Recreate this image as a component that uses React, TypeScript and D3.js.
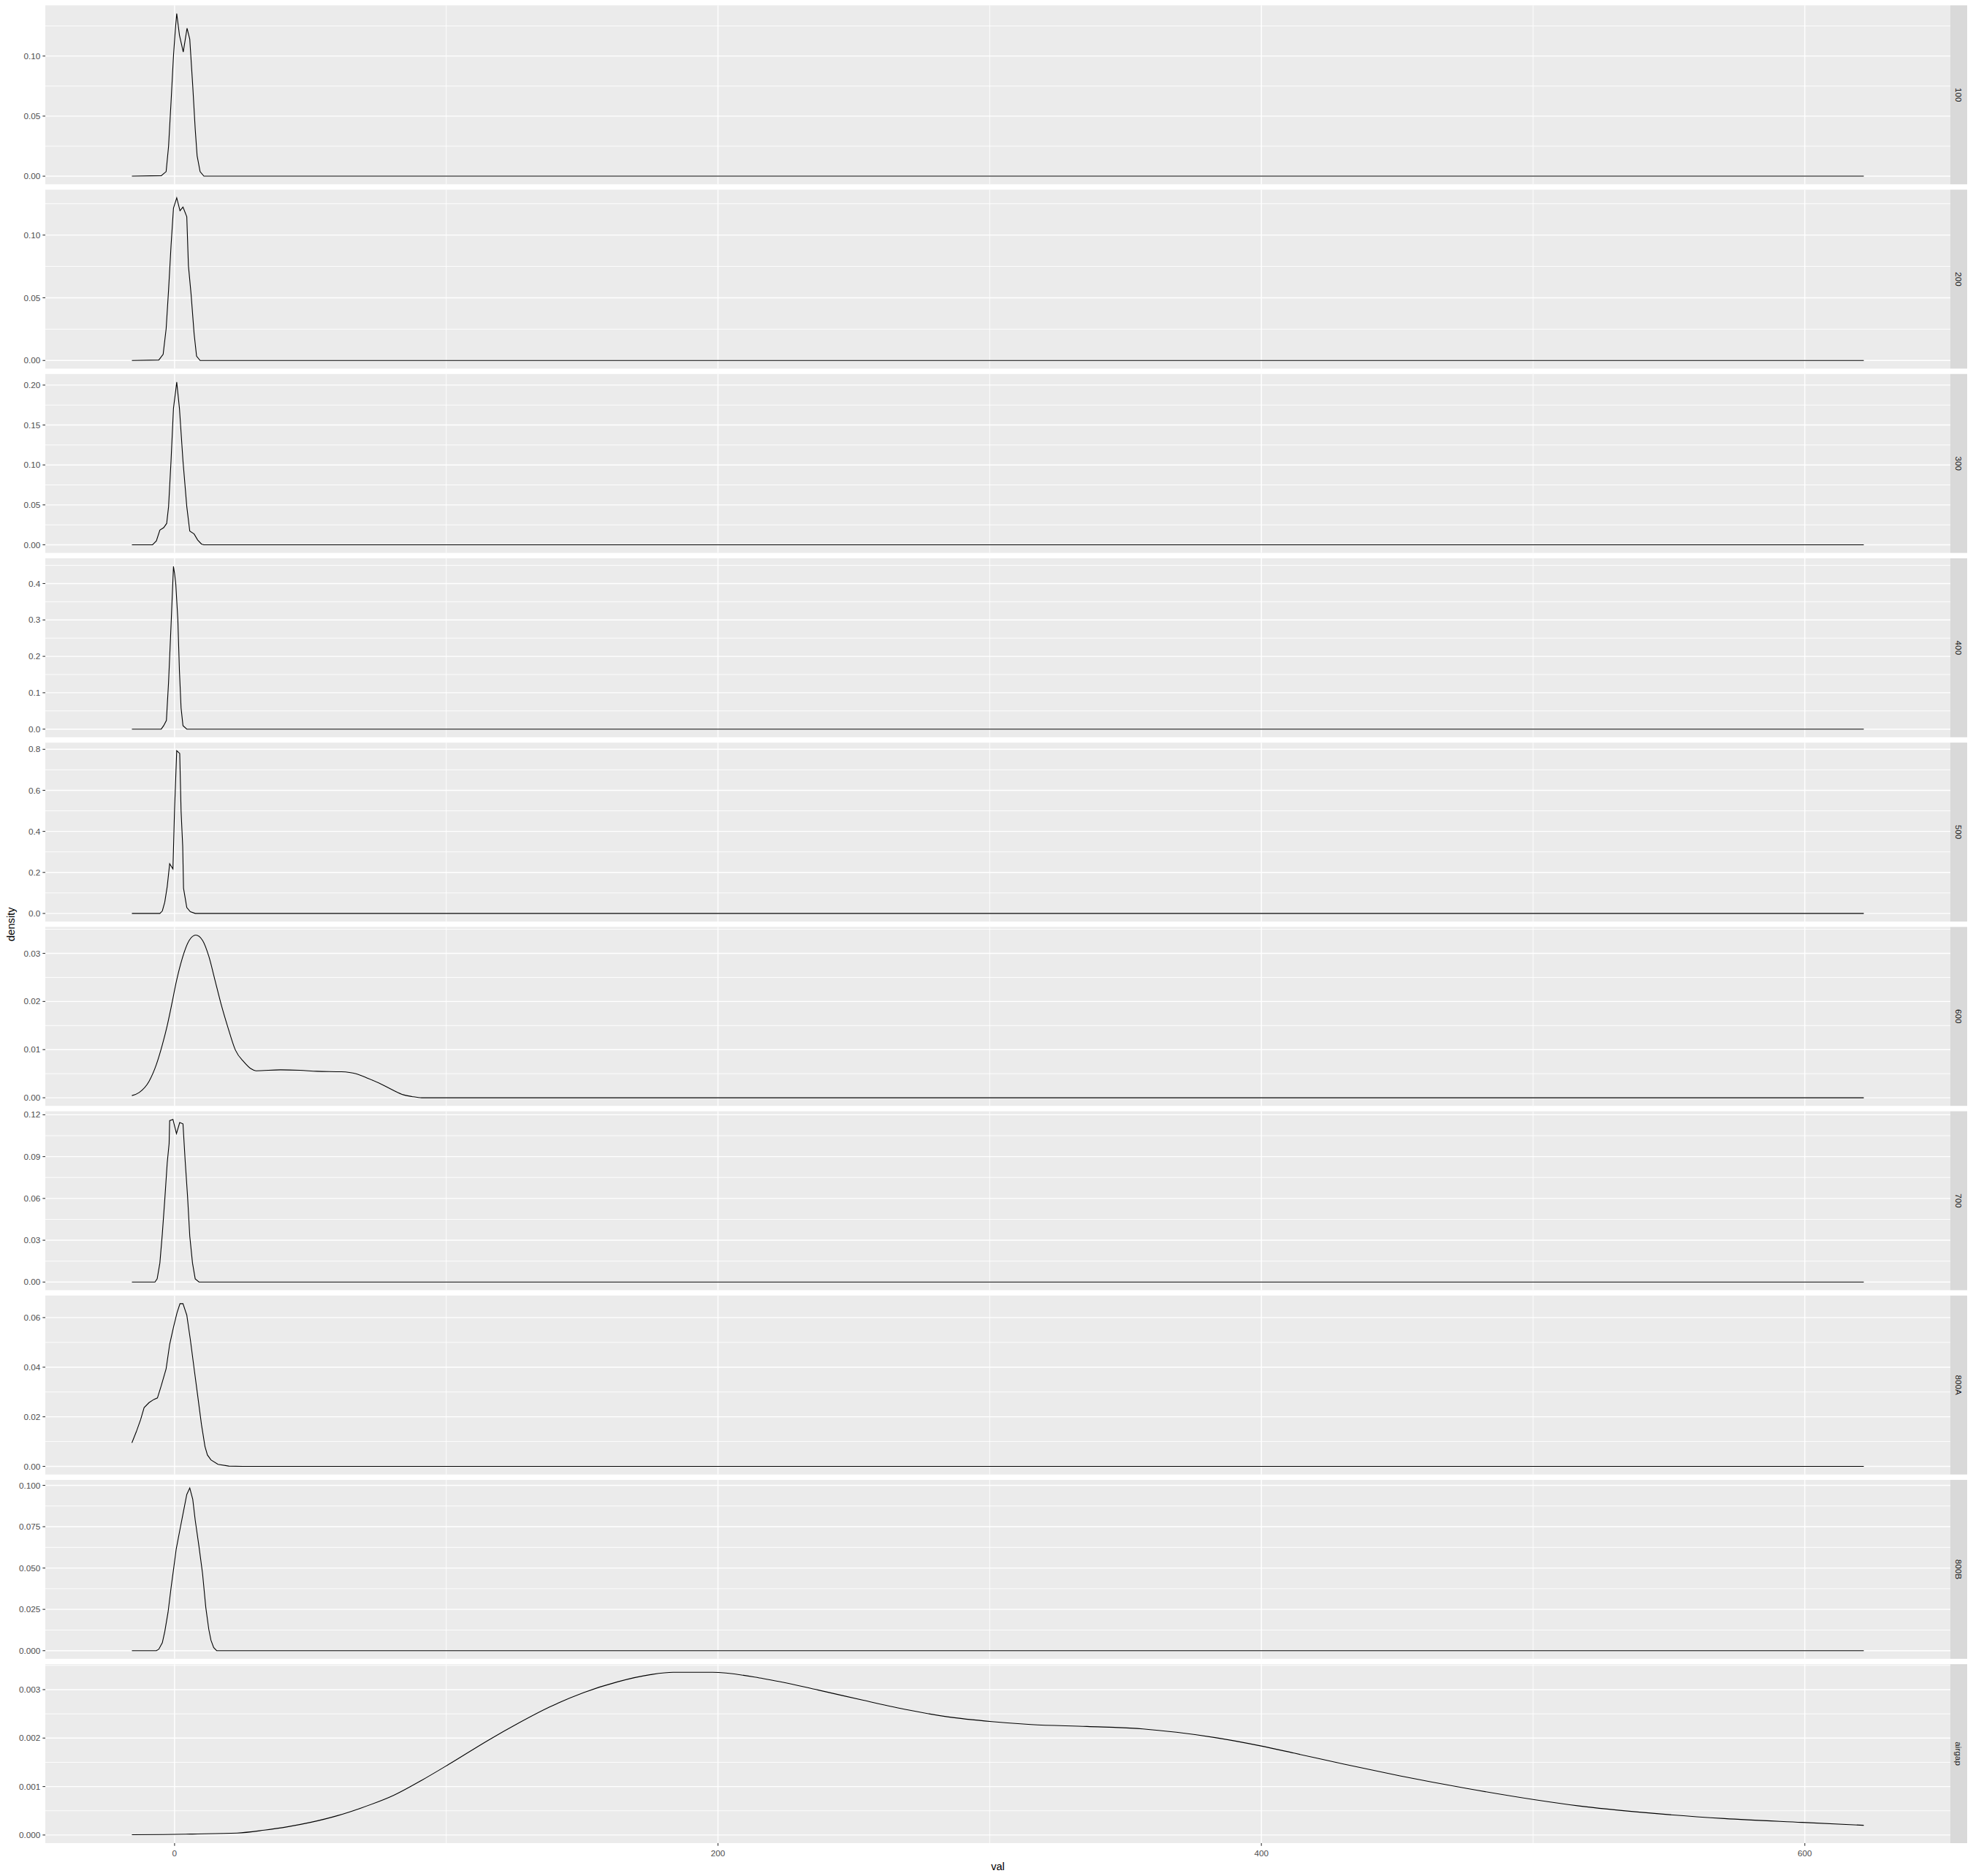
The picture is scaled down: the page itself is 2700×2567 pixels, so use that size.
import React from 'react';
import * as d3 from 'd3';

// facet rows (top to bottom)
const facetNames = ['100', '200', '300', '400', '500', '600', '700', '800A', '800B', 'airgap'];
// wide, smooth curves get a smooth interpolation; the narrow ones stay jagged like the original
const smoothFacets = ['600', 'airgap'];

// density curves: [val, density]
const d100: [number, number][] = [
  [-15.7, 0], [-4.9, 0.0004], [-3.1, 0.0038], [-2.2, 0.025], [-1.3, 0.0615], [-0.4, 0.1],
  [0.27, 0.1215], [0.8, 0.1354], [1.8, 0.1174], [3.2, 0.1034], [4.6, 0.1232], [5.6, 0.114],
  [6.7, 0.0749], [7.6, 0.0393], [8.3, 0.017], [9.4, 0.0038], [10.8, 0], [621.7, 0],
];
const d200: [number, number][] = [
  [-15.7, 0], [-5.8, 0.0004], [-4.2, 0.0049], [-3.1, 0.0252], [-2.2, 0.0563], [-1.3, 0.0913],
  [-0.4, 0.1214], [0.8, 0.1297], [2.0, 0.1194], [3.1, 0.1223], [4.5, 0.1146], [5.1, 0.0757],
  [6.1, 0.0524], [7.2, 0.0213], [8.1, 0.0035], [9.4, 0], [621.7, 0],
];
const d300: [number, number][] = [
  [-15.7, 0], [-8.1, 0], [-6.7, 0.0048], [-5.4, 0.0184], [-4.0, 0.0215], [-2.9, 0.0268],
  [-2.2, 0.0479], [-1.3, 0.105], [-0.4, 0.1708], [0.8, 0.2037], [1.8, 0.1708], [3.1, 0.105],
  [4.5, 0.0479], [5.6, 0.0171], [7.2, 0.0136], [8.5, 0.0061], [9.9, 0.0009], [10.8, 0], [621.7, 0],
];
const d400: [number, number][] = [
  [-15.7, 0], [-4.9, 0], [-4.0, 0.0096], [-3.0, 0.024], [-2.2, 0.13], [-1.3, 0.284],
  [-0.4, 0.447], [0, 0.428], [0.45, 0.399], [1.2, 0.303], [1.8, 0.159], [2.4, 0.058],
  [3.1, 0.0096], [4.5, 0], [621.7, 0],
];
const d500: [number, number][] = [
  [-15.7, 0], [-5.4, 0], [-4.5, 0.012], [-3.6, 0.055], [-2.7, 0.131], [-1.8, 0.242],
  [-0.6, 0.217], [0, 0.507], [0.8, 0.793], [1.9, 0.78], [2.4, 0.498], [3.0, 0.328],
  [3.3, 0.123], [4.5, 0.029], [5.8, 0.0085], [7.6, 0], [621.7, 0],
];
const d600: [number, number][] = [
  [-15.7, 0.00045], [-13.0, 0.0011], [-9.4, 0.0034], [-6.7, 0.0069], [-4.5, 0.011], [-2.7, 0.015],
  [-0.9, 0.0198], [0.45, 0.0236], [2.3, 0.0279], [5.4, 0.0327], [7.8, 0.0338], [10.3, 0.0327],
  [12.6, 0.0294], [14.8, 0.0246], [17.1, 0.0195], [19.7, 0.0145], [22.4, 0.0099], [25.6, 0.0074],
  [28.2, 0.006], [30.0, 0.0056], [39.0, 0.0058], [46.2, 0.0057], [52.4, 0.0055], [61.4, 0.0054],
  [66.8, 0.005], [71.3, 0.004], [75.8, 0.0029], [80.3, 0.0016], [84.3, 0.0006], [87.4, 0.00025],
  [91.0, 0], [621.7, 0],
];
const d700: [number, number][] = [
  [-15.7, 0], [-7.2, 0], [-6.4, 0.0023], [-5.4, 0.0137], [-4.5, 0.0347], [-3.6, 0.0592],
  [-2.7, 0.0855], [-2.0, 0.0995], [-1.8, 0.1158], [-0.6, 0.1167], [0.7, 0.1065], [1.9, 0.1144],
  [3.1, 0.1135], [3.9, 0.0872], [4.8, 0.061], [5.6, 0.0329], [6.6, 0.0137], [7.6, 0.0023],
  [9.0, 0], [621.7, 0],
];
const d800A: [number, number][] = [
  [-15.7, 0.0095], [-14.1, 0.0139], [-12.5, 0.0188], [-11.2, 0.0237], [-9.4, 0.0257], [-7.6, 0.027],
  [-6.3, 0.0276], [-4.9, 0.0325], [-3.1, 0.0394], [-1.8, 0.0492], [-0.4, 0.0561], [0.9, 0.0619],
  [2.0, 0.0656], [3.1, 0.0656], [4.5, 0.061], [5.8, 0.0512], [7.2, 0.0394], [8.5, 0.0286],
  [9.9, 0.0169], [11.2, 0.008], [12.1, 0.0046], [13.4, 0.0026], [16.0, 0.0008], [20.0, 0.0001],
  [25.0, 0], [621.7, 0],
];
const d800B: [number, number][] = [
  [-15.7, 0], [-6.7, 0], [-5.8, 0.0009], [-4.5, 0.0048], [-3.6, 0.0115], [-2.4, 0.0232],
  [-1.3, 0.0379], [-0.4, 0.0489], [0.6, 0.0614], [1.8, 0.0717], [3.1, 0.0827], [4.5, 0.0945],
  [5.6, 0.0984], [6.7, 0.0915], [7.6, 0.079], [9.0, 0.0629], [10.3, 0.0467], [11.5, 0.0261],
  [12.6, 0.0129], [13.4, 0.0063], [14.4, 0.0019], [15.5, 0], [621.7, 0],
];
const dAirgap: [number, number][] = [
  [-15.7, 0.000005], [-4, 0.00001], [6.6, 0.00002], [23, 0.00004], [33, 0.0001], [41.6, 0.00017],
  [50, 0.00026], [60, 0.0004], [68.3, 0.00055], [80.7, 0.00082], [91, 0.00113], [101, 0.00146],
  [115.6, 0.00196], [126, 0.00229], [138, 0.00264], [150.6, 0.00294], [163, 0.00316],
  [175.3, 0.00331], [183.5, 0.003357], [198, 0.003357], [216.5, 0.00323], [237, 0.00299],
  [253.5, 0.00278], [270, 0.00258], [284.4, 0.00244], [300.8, 0.00234], [315.2, 0.00228],
  [335.8, 0.00224], [356.4, 0.00219], [368.7, 0.00212], [383, 0.00201], [399.6, 0.00184],
  [412, 0.00169], [430.5, 0.00146], [451, 0.00122], [475.7, 0.00096], [500.4, 0.00073],
  [516.9, 0.0006], [541.6, 0.00046], [570.4, 0.00034], [599, 0.00026], [621.7, 0.0002],
];

const facetData = [d100, d200, d300, d400, d500, d600, d700, d800A, d800B, dAirgap];

// y tick labels per facet
const yLabels100 = ['0.00', '0.05', '0.10'];
const yLabels200 = ['0.00', '0.05', '0.10'];
const yLabels300 = ['0.00', '0.05', '0.10', '0.15', '0.20'];
const yLabels400 = ['0.0', '0.1', '0.2', '0.3', '0.4'];
const yLabels500 = ['0.0', '0.2', '0.4', '0.6', '0.8'];
const yLabels600 = ['0.00', '0.01', '0.02', '0.03'];
const yLabels700 = ['0.00', '0.03', '0.06', '0.09', '0.12'];
const yLabels800A = ['0.00', '0.02', '0.04', '0.06'];
const yLabels800B = ['0.000', '0.025', '0.050', '0.075', '0.100'];
const yLabelsAirgap = ['0.000', '0.001', '0.002', '0.003'];
const yLabels = [yLabels100, yLabels200, yLabels300, yLabels400, yLabels500,
  yLabels600, yLabels700, yLabels800A, yLabels800B, yLabelsAirgap];

const xTickLabels = ['0', '200', '400', '600'];

const W = 2700;
const H = 2567;
const pt = 96 / 72;
const panelLeft = 62;
const panelRight = 2669;
const stripW = 23;
const top = 5.5 * pt;
const gap = 5.5 * pt;
const panelH = 244.87;
const bottom = top + 10 * panelH + 9 * gap;
const font = '"Liberation Sans", Arial, sans-serif';

const expand = (lo: number, hi: number): [number, number] => {
  const r = hi - lo;
  return [lo - r * 0.05, hi + r * 0.05];
};

// ggplot-style minor breaks: midpoints, plus one beyond each end if inside the limits
const minorOf = (majors: number[], dom: [number, number]) => {
  const step = majors[1] - majors[0];
  const out: number[] = [];
  for (let i = -1; i < majors.length; i++) {
    const m = majors[0] + (i + 0.5) * step;
    if (m >= dom[0] && m <= dom[1]) out.push(m);
  }
  return out;
};

const App: React.FC = () => {
  const allX = facetData.flat().map(d => d[0]);
  const xDom = expand(d3.min(allX)!, d3.max(allX)!);
  const x = d3.scaleLinear().domain(xDom).range([panelLeft, panelRight]);
  const xMajors = xTickLabels.map(Number);
  const xMinors = minorOf(xMajors, xDom);

  return (
    <svg width={W} height={H} style={{ position: 'absolute', left: 0, top: 0, background: '#fff' }}
      fontFamily={font}>
      {facetData.map((data, i) => {
        const y0 = top + i * (panelH + gap);
        const ext = d3.extent(data, d => d[1]) as [number, number];
        const yDom = expand(Math.min(0, ext[0]), ext[1]);
        const y = d3.scaleLinear().domain(yDom).range([y0 + panelH, y0]);
        const majors = yLabels[i].map(Number);
        const minors = minorOf(majors, yDom);
        const line = d3.line<[number, number]>()
          .x(d => x(d[0]))
          .y(d => y(d[1]))
          .curve(smoothFacets.includes(facetNames[i]) ? d3.curveMonotoneX : d3.curveLinear);
        return (
          <g key={facetNames[i]}>
            <rect x={panelLeft} y={y0} width={panelRight - panelLeft} height={panelH} fill="#EBEBEB" />
            {minors.map(v => (
              <line key={'hm' + v} x1={panelLeft} x2={panelRight} y1={y(v)} y2={y(v)} stroke="#fff" strokeWidth={0.9} />
            ))}
            {xMinors.map(v => (
              <line key={'vm' + v} x1={x(v)} x2={x(v)} y1={y0} y2={y0 + panelH} stroke="#fff" strokeWidth={0.9} />
            ))}
            {majors.map(v => (
              <line key={'hM' + v} x1={panelLeft} x2={panelRight} y1={y(v)} y2={y(v)} stroke="#fff" strokeWidth={1.4} />
            ))}
            {xMajors.map(v => (
              <line key={'vM' + v} x1={x(v)} x2={x(v)} y1={y0} y2={y0 + panelH} stroke="#fff" strokeWidth={1.4} />
            ))}
            <path d={line(data) ?? ''} fill="none" stroke="#000" strokeWidth={1.1} />
            {majors.map((v, k) => (
              <g key={'yt' + v}>
                <line x1={panelLeft - 2.75 * pt} x2={panelLeft} y1={y(v)} y2={y(v)} stroke="#333333" strokeWidth={1.1} />
                <text x={panelLeft - 2.75 * pt - 2.2 * pt} y={y(v)} dy="0.35em" textAnchor="end"
                  fontSize={8.8 * pt} fill="#4D4D4D">{yLabels[i][k]}</text>
              </g>
            ))}
            <rect x={panelRight} y={y0} width={stripW} height={panelH} fill="#D9D9D9" />
            <text transform={`translate(${panelRight + stripW / 2},${y0 + panelH / 2}) rotate(90)`}
              textAnchor="middle" dy="0.35em" fontSize={8.8 * pt} fill="#1A1A1A">{facetNames[i]}</text>
          </g>
        );
      })}
      {xMajors.map((v, k) => (
        <g key={'xt' + v}>
          <line x1={x(v)} x2={x(v)} y1={bottom} y2={bottom + 2.75 * pt} stroke="#333333" strokeWidth={1.1} />
          <text x={x(v)} y={2540} textAnchor="middle" fontSize={8.8 * pt} fill="#4D4D4D">{xTickLabels[k]}</text>
        </g>
      ))}
      <text x={(panelLeft + panelRight) / 2} y={2559} textAnchor="middle" fontSize={11 * pt} fill="#000">val</text>
      <text transform={`translate(15,${(top + bottom) / 2}) rotate(-90)`} textAnchor="middle" dy="0.35em"
        fontSize={11 * pt} fill="#000">density</text>
    </svg>
  );
};

export default App;
